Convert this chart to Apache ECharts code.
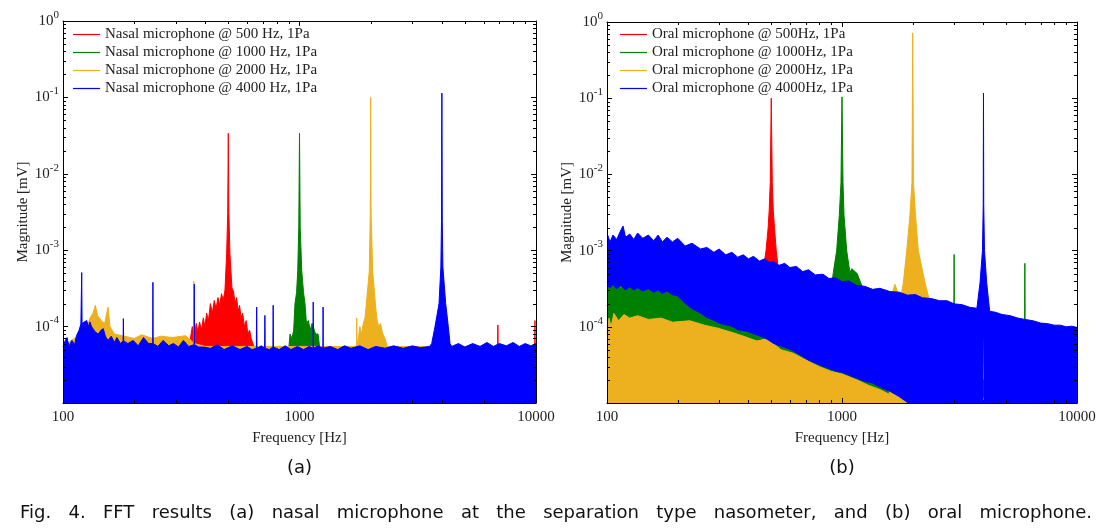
<!DOCTYPE html>
<html><head><meta charset="utf-8">
<script src="https://cdn.jsdelivr.net/npm/echarts@6/dist/echarts.min.js"></script>
<style>html,body{margin:0;padding:0;background:#fff}#c{width:1114px;height:531px}</style>
</head><body><div id="c"></div><script>
// ---------- data (frequency [Hz], magnitude [mV]) ----------
const nasalNames = ['Nasal microphone @ 500 Hz, 1Pa','Nasal microphone @ 1000 Hz, 1Pa','Nasal microphone @ 2000 Hz, 1Pa','Nasal microphone @ 4000 Hz, 1Pa'];
const oralNames = ['Oral microphone @ 500Hz, 1Pa','Oral microphone @ 1000Hz, 1Pa','Oral microphone @ 2000Hz, 1Pa','Oral microphone @ 4000Hz, 1Pa'];
const xTickLabels = [100, 1000, 10000];
const yTickExponents = [0, -1, -2, -3, -4];

// (a) nasal microphone: upper envelope of each spectrum
const nasal500 = [[100,5e-5],[340,5e-5],[352,1e-4],[360,8e-5],[366,1.1e-4],[372,8.5e-5],[378,1.15e-4],[385,9e-5],[392,1.3e-4],[398,1e-4],[405,1.5e-4],[412,1.2e-4],[420,2e-4],[428,1.5e-4],[436,2.2e-4],[444,1.7e-4],[452,2.4e-4],[460,1.9e-4],[468,2.7e-4],[476,2.2e-4],[484,3e-4],[492,9e-4],[497,3e-3],[500,0.034],[503,3e-3],[508,9e-4],[518,3.2e-4],[526,2.9e-4],[534,2e-4],[542,2.4e-4],[550,1.6e-4],[558,1.9e-4],[566,1.3e-4],[575,1.5e-4],[585,1e-4],[595,1.2e-4],[605,8e-5],[615,9e-5],[625,7e-5],[635,6e-5],[650,5e-5],[6880,5e-5],[6900,1.05e-4],[6920,5e-5],[9880,5e-5],[9900,1.2e-4],[9920,5e-5],[10000,5e-5]];
const nasal1000 = [[100,5e-5],[900,5e-5],[912,8e-5],[930,7e-5],[945,9e-5],[957,2e-4],[972,2.8e-4],[983,5.4e-4],[993,2e-3],[1000,0.034],[1007,2e-3],[1022,5.4e-4],[1040,2.8e-4],[1055,2e-4],[1070,1.1e-4],[1090,1.2e-4],[1110,9e-5],[1130,1.1e-4],[1150,1.05e-4],[1170,8e-5],[1198,8e-5],[1220,5e-5],[10000,5e-5]];
const nasal2000 = [[100,5.5e-5],[125,9e-5],[130,1.3e-4],[134,1.5e-4],[137,1.9e-4],[140,1.4e-4],[145,1.2e-4],[150,1.1e-4],[155,1.8e-4],[158,1e-4],[165,8e-5],[200,7e-5],[215,7.8e-5],[240,7e-5],[260,7.5e-5],[290,7.2e-5],[330,7.6e-5],[350,6.5e-5],[357.5,6e-5],[358,3.9e-4],[358.5,6e-5],[400,5.5e-5],[1700,5.5e-5],[1744,5.5e-5],[1746,1.3e-4],[1748,5.5e-5],[1774,7e-5],[1800,1e-4],[1830,8e-5],[1860,1.1e-4],[1892,1.3e-4],[1930,2.5e-4],[1973,5.4e-4],[1992,3e-3],[2000,0.1],[2008,3e-3],[2039,5.4e-4],[2080,2.5e-4],[2121,1.3e-4],[2160,1e-4],[2200,1.1e-4],[2250,8e-5],[2298,7e-5],[2350,5.5e-5],[10000,5.5e-5]];
const nasal4000 = [[100,5.4e-5],[102,6.5e-5],[104,7.2e-5],[106,5.5e-5],[109,6.6e-5],[112,5.8e-5],[114,7.6e-5],[117,9e-5],[119,1.08e-4],[119.6,1.1e-4],[120,5.1e-4],[120.4,1.1e-4],[123,1.15e-4],[126,1.2e-4],[128,1e-4],[130,1.15e-4],[132,1e-4],[134,9.8e-5],[137,8.5e-5],[141,8e-5],[145,9e-5],[148,9.4e-5],[151,7.5e-5],[155,6.6e-5],[160,7.5e-5],[165,6.2e-5],[169,7.2e-5],[175,6e-5],[179.5,6.5e-5],[180,1.27e-4],[180.5,6.5e-5],[188,6e-5],[198,6.6e-5],[208,5.6e-5],[219,7.2e-5],[230,6e-5],[239.5,6e-5],[240,3.8e-4],[240.5,6e-5],[252,5.5e-5],[265,6.6e-5],[280,5.6e-5],[293,6e-5],[308,5.4e-5],[323,6.6e-5],[340,5.5e-5],[358.5,5.8e-5],[359,3.6e-4],[359.5,5.8e-5],[375,5.4e-5],[392,5.4e-5],[420,5.2e-5],[450,5.8e-5],[480,5e-5],[520,5.6e-5],[560,5e-5],[600,5.5e-5],[630,5e-5],[657,5.2e-5],[659,1.8e-4],[661,5.2e-5],[690,5.6e-5],[712,5.2e-5],[714,1.4e-4],[716,5.2e-5],[745,5e-5],[772,5.4e-5],[774,1.9e-4],[776,5.4e-5],[820,5e-5],[870,5.6e-5],[920,5e-5],[980,5.5e-5],[1040,5e-5],[1100,5.5e-5],[1141,5.2e-5],[1143,2.1e-4],[1145,5.2e-5],[1200,5.6e-5],[1256,5.2e-5],[1258,1.8e-4],[1260,5.2e-5],[1350,5.5e-5],[1450,5e-5],[1550,5.6e-5],[1650,5.2e-5],[1800,5.6e-5],[1950,5e-5],[2100,5.5e-5],[2300,5.2e-5],[2500,5.6e-5],[2750,5.2e-5],[3000,5.6e-5],[3250,5.3e-5],[3550,5.5e-5],[3622,6e-5],[3741,1e-4],[3890,2e-4],[3960,6e-4],[3985,2.4e-3],[4000,0.114],[4015,2.4e-3],[4040,6e-4],[4151,2e-4],[4258,1e-4],[4329,6e-5],[4400,5.5e-5],[4700,6e-5],[5000,5.4e-5],[5400,6e-5],[5800,5.5e-5],[6200,6.2e-5],[6600,5.5e-5],[7000,6e-5],[7500,5.6e-5],[8000,6.2e-5],[8500,5.5e-5],[9000,6e-5],[9500,5.6e-5],[10000,6e-5]];

// (b) oral microphone: upper envelope of each spectrum
const oral500 = [[100,1.9e-4],[103,2.1e-4],[106,1.6e-4],[110,2e-4],[115,1.5e-4],[125,1.4e-4],[140,1.2e-4],[170,1.1e-4],[220,1e-4],[300,8e-5],[400,7e-5],[450,6e-5],[462,5.6e-4],[475,1e-3],[485,2e-3],[490,3.4e-3],[495,7.8e-3],[500,0.1],[505,7.8e-3],[510,3.4e-3],[516,2e-3],[525,1e-3],[536,5.6e-4],[550,6e-5],[700,5e-5],[1000,3e-5],[2000,1.5e-5],[10000,1.2e-5]];
const oral1000 = [[100,3.8e-4],[103,4.2e-4],[106,3.4e-4],[110,3.9e-4],[115,3.2e-4],[122,4e-4],[130,3.5e-4],[140,3.8e-4],[150,3.3e-4],[165,4e-4],[180,3.4e-4],[200,3.2e-4],[230,2.8e-4],[266,2.5e-4],[300,2e-4],[400,1.4e-4],[600,1e-4],[800,8e-5],[870,2e-4],[904,3.5e-4],[918,5.1e-4],[949,1e-3],[974,2.9e-3],[990,7.8e-3],[1000,0.104],[1010,7.8e-3],[1020,2.9e-3],[1047,1e-3],[1081,5.1e-4],[1100,5.8e-4],[1117,6e-4],[1160,5e-4],[1213,3.5e-4],[1260,8e-5],[1500,5e-5],[2000,3e-5],[2985,2.5e-5],[3000,8.9e-4],[3015,2.5e-5],[4000,2e-5],[5970,1.6e-5],[6000,6.8e-4],[6030,1.6e-5],[10000,1.2e-5]];
const oral2000 = [[100,8e-5],[102,1.3e-4],[104,1e-4],[107,1.5e-4],[112,1.2e-4],[118,1.45e-4],[125,1.3e-4],[135,1.4e-4],[150,1.25e-4],[170,1.3e-4],[190,1.15e-4],[225,1.2e-4],[260,1.05e-4],[300,9.5e-5],[360,8e-5],[435,6.5e-5],[480,7e-5],[550,5e-5],[620,4.5e-5],[710,3.6e-5],[800,3e-5],[900,2.6e-5],[1000,2.4e-5],[1160,2e-5],[1300,1.7e-5],[1450,1.5e-5],[1590,1.3e-5],[1620,2.5e-4],[1681,3.6e-4],[1740,2.6e-4],[1780,2.4e-4],[1824,3.8e-4],[1886,1e-3],[1945,2.9e-3],[1985,7.8e-3],[2000,0.72],[2015,7.8e-3],[2055,2.9e-3],[2112,1e-3],[2255,3.8e-4],[2366,2.1e-4],[2420,1.2e-5],[10000,1.1e-5]];
// oral 4000 Hz: [frequency, lower edge, upper edge] of the noise band
const oral4000 = [[100,3.4e-4,1.7e-3],[103,3.2e-4,1.3e-3],[106,3.5e-4,1.6e-3],[110,3.1e-4,1.4e-3],[114,3.4e-4,1.8e-3],[117,3.2e-4,2.1e-3],[120,3e-4,1.5e-3],[125,3.3e-4,1.65e-3],[130,3e-4,1.4e-3],[135,3.2e-4,1.7e-3],[142,2.9e-4,1.45e-3],[150,3.1e-4,1.6e-3],[158,2.8e-4,1.35e-3],[165,3e-4,1.6e-3],[172,2.7e-4,1.3e-3],[180,2.9e-4,1.5e-3],[190,2.6e-4,1.3e-3],[200,2.5e-4,1.45e-3],[215,2e-4,1.15e-3],[230,1.7e-4,1.25e-3],[250,1.5e-4,1.05e-3],[266,1.3e-4,1.1e-3],[285,1.2e-4,9.5e-4],[300,1.1e-4,1.05e-3],[320,1.05e-4,8.8e-4],[340,1e-4,9.5e-4],[360,9e-5,8.2e-4],[380,8.8e-5,8.8e-4],[400,8.5e-5,7.8e-4],[420,8e-5,8.4e-4],[445,7.5e-5,7.3e-4],[470,7e-5,7.8e-4],[490,6.5e-5,7e-4],[510,6e-5,7.2e-4],[540,5.6e-5,6.4e-4],[570,5.3e-5,6.8e-4],[600,5e-5,6e-4],[640,4.5e-5,6.2e-4],[680,4e-5,5.3e-4],[720,3.6e-5,5.6e-4],[770,3.3e-5,4.8e-4],[830,3e-5,4.9e-4],[880,2.8e-5,4.3e-4],[940,2.6e-5,4.4e-4],[1000,2.5e-5,3.9e-4],[1070,2.3e-5,4e-4],[1150,2.1e-5,3.5e-4],[1250,1.9e-5,3.4e-4],[1350,1.8e-5,3.1e-4],[1450,1.6e-5,3.2e-4],[1600,1.4e-5,2.9e-4],[1750,1.2e-5,2.85e-4],[1900,1e-5,2.6e-4],[2050,1e-5,2.65e-4],[2200,1e-5,2.4e-4],[2400,1e-5,2.35e-4],[2600,1e-5,2.2e-4],[2800,1e-5,2.2e-4],[3000,1e-5,2e-4],[3250,1e-5,1.95e-4],[3500,1e-5,1.8e-4],[3750,1e-5,1.75e-4],[3867,1e-5,3.8e-4],[3960,1e-5,1e-3],[3990,1e-5,4e-3],[4000,7.5e-5,0.117],[4010,1e-5,4e-3],[4040,1e-5,1e-3],[4127,1e-5,3.8e-4],[4250,1e-5,1.6e-4],[4500,1e-5,1.55e-4],[4800,1e-5,1.45e-4],[5200,1e-5,1.4e-4],[5600,1e-5,1.3e-4],[6000,1e-5,1.25e-4],[6500,1e-5,1.2e-4],[7000,1e-5,1.12e-4],[7500,1e-5,1.1e-4],[8000,1e-5,1.05e-4],[8500,1e-5,1.05e-4],[9000,1e-5,1e-4],[9500,1e-5,1.02e-4],[10000,1e-5,9.8e-5]];

const colors = ['#ff0000', '#008000', '#edb120', '#0000ff'];
const captionText = 'Fig. 4. FFT results (a) nasal microphone at the separation type nasometer, and (b) oral microphone.';

// ---------- chart ----------
const XMIN = 100, XMAX = 10000, YMIN = 1e-5, YMAX = 1;
const minorMult = [2,3,4,5,6,7,8,9];
const xMinor = [100, 1000].flatMap(d => minorMult.map(m => m * d));
const yMinor = [1e-5, 1e-4, 1e-3, 1e-2, 1e-1].flatMap(d => minorMult.map(m => m * d));
const SERIF = 'Liberation Serif';
const TXT = '#222';

const chart = echarts.init(document.getElementById('c'), null, {renderer: 'canvas'});

const grids = [
  {left: 63, top: 21, width: 473, height: 382},
  {left: 607, top: 22, width: 470, height: 381}
];

function xAxes(gi) {
  const base = {gridIndex: gi, type: 'log', logBase: 10, min: XMIN, max: XMAX, z: 20,
    axisLine: {lineStyle: {color: '#000', width: 1}},
    axisTick: {inside: true, length: 5, lineStyle: {color: '#000'}},
    splitLine: {show: false}, minorTick: {show: false}};
  return [
    Object.assign({}, base, {position: 'bottom',
      axisLabel: {fontFamily: SERIF, fontSize: 15, color: TXT, margin: 7,
        formatter: v => (xTickLabels.indexOf(Math.round(v)) >= 0 ? String(Math.round(v)) : '')},
      name: 'Frequency [Hz]', nameLocation: 'middle', nameGap: 28,
      nameTextStyle: {fontFamily: SERIF, fontSize: 15, color: TXT}}),
    Object.assign({}, base, {position: 'top', axisLabel: {show: false}})
  ];
}
function yAxes(gi) {
  const base = {gridIndex: gi, type: 'log', logBase: 10, min: YMIN, max: YMAX, z: 20,
    axisLine: {lineStyle: {color: '#000', width: 1}},
    axisTick: {inside: true, length: 5, lineStyle: {color: '#000'}},
    splitLine: {show: false}, minorTick: {show: false}};
  return [
    Object.assign({}, base, {position: 'left',
      axisLabel: {showMinLabel: false, margin: 4, color: TXT,
        formatter: v => {
          const e = Math.round(Math.log10(v));
          return yTickExponents.indexOf(e) >= 0 ? '{b|10}{s|' + e + '}' : '';
        },
        rich: {b: {fontFamily: SERIF, fontSize: 15, color: TXT},
               s: {fontFamily: SERIF, fontSize: 11, color: TXT, padding: [0, 0, 12, 0]}}},
      name: 'Magnitude [mV]', nameLocation: 'middle', nameGap: 31, nameRotate: 90,
      nameTextStyle: {fontFamily: SERIF, fontSize: 15, color: TXT}}),
    Object.assign({}, base, {position: 'right', axisLabel: {show: false}})
  ];
}

function area(name, data, color, gi, z) {
  return {name, type: 'line', xAxisIndex: gi * 2, yAxisIndex: gi * 2, data, z,
    symbol: 'none', showSymbol: false, silent: true, animation: false,
    color, itemStyle: {color}, lineStyle: {color, width: 1},
    areaStyle: {color, opacity: 1, origin: 'start'}, emphasis: {disabled: true}};
}

// band between lower and upper edge, drawn through the axes' own coordinate mapping
function band(name, rows, color, gi, z) {
  return {name, type: 'custom', xAxisIndex: gi * 2, yAxisIndex: gi * 2, z, clip: true,
    silent: true, animation: false, color, itemStyle: {color},
    data: rows, encode: {x: 0, y: 2},
    renderItem: (params, api) => {
      if (params.dataIndex !== 0) return null;
      const top = rows.map(r => api.coord([r[0], r[2]]));
      const bot = rows.map(r => api.coord([r[0], r[1]])).reverse();
      return {type: 'group', children: [
        {type: 'polygon', shape: {points: top.concat(bot)}, style: {fill: color}},
        {type: 'polyline', shape: {points: top}, style: {stroke: color, lineWidth: 1, fill: null}}
      ]};
    }};
}

function tickSeries(gi) {
  const common = {type: 'custom', xAxisIndex: gi * 2, yAxisIndex: gi * 2, silent: true,
    clip: false, animation: false, z: 30};
  const ln = (x1, y1, x2, y2) => ({type: 'line', shape: {x1, y1, x2, y2},
    style: {stroke: '#000', lineWidth: 1}});
  return [
    Object.assign({}, common, {data: xMinor.map(v => [v, YMIN]),
      renderItem: (p, api) => {
        const b = api.coord([api.value(0), YMIN]), t = api.coord([api.value(0), YMAX]);
        const x = Math.round(b[0]) + 0.5;
        return {type: 'group', children: [ln(x, b[1], x, b[1] - 3), ln(x, t[1], x, t[1] + 3)]};
      }}),
    Object.assign({}, common, {data: yMinor.map(v => [XMIN, v]),
      renderItem: (p, api) => {
        const l = api.coord([XMIN, api.value(1)]), r = api.coord([XMAX, api.value(1)]);
        const y = Math.round(l[1]) + 0.5;
        return {type: 'group', children: [ln(l[0], y, l[0] + 3, y), ln(r[0], y, r[0] - 3, y)]};
      }})
  ];
}

const series = [
  area(nasalNames[0], nasal500, colors[0], 0, 2),
  area(nasalNames[1], nasal1000, colors[1], 0, 3),
  area(nasalNames[2], nasal2000, colors[2], 0, 4),
  area(nasalNames[3], nasal4000, colors[3], 0, 5),
  area(oralNames[0], oral500, colors[0], 1, 2),
  area(oralNames[1], oral1000, colors[1], 1, 3),
  area(oralNames[2], oral2000, colors[2], 1, 4),
  band(oralNames[3], oral4000, colors[3], 1, 5),
  ...tickSeries(0), ...tickSeries(1)
];

const legendBase = {orient: 'vertical', icon: 'rect', itemWidth: 27, itemHeight: 1.2,
  itemGap: 3, padding: 0, selectedMode: false, z: 40,
  textStyle: {fontFamily: SERIF, fontSize: 15, color: TXT}};

// caption words laid out justified across the page width
const CAP_FONT = 'DejaVu Sans';
const ctx = document.createElement('canvas').getContext('2d');
ctx.font = '18px "' + CAP_FONT + '"';
const words = captionText.split(' ');
const widths = words.map(w => ctx.measureText(w).width);
const capL = 20, capR = 1092;
const gap = (capR - capL - widths.reduce((a, b) => a + b, 0)) / (words.length - 1);
let cx = capL;
const capGraphics = words.map((w, i) => {
  const g = {type: 'text', x: cx, y: 513, silent: true, z: 50,
    style: {text: w, fontSize: 18, fontFamily: CAP_FONT, fill: '#111', verticalAlign: 'middle'}};
  cx += widths[i] + gap;
  return g;
});

chart.setOption({
  animation: false,
  backgroundColor: '#fff',
  grid: grids,
  xAxis: [...xAxes(0), ...xAxes(1)],
  yAxis: [...yAxes(0), ...yAxes(1)],
  legend: [
    Object.assign({}, legendBase, {data: nasalNames, left: 73, top: 27}),
    Object.assign({}, legendBase, {data: oralNames, left: 620, top: 27})
  ],
  series,
  graphic: [
    {type: 'text', x: 299.5, y: 468, silent: true, z: 50,
      style: {text: '(a)', fontSize: 18, fontFamily: CAP_FONT, fill: '#111', align: 'center', verticalAlign: 'middle'}},
    {type: 'text', x: 842, y: 468, silent: true, z: 50,
      style: {text: '(b)', fontSize: 18, fontFamily: CAP_FONT, fill: '#111', align: 'center', verticalAlign: 'middle'}},
    ...capGraphics
  ]
});
</script></body></html>
